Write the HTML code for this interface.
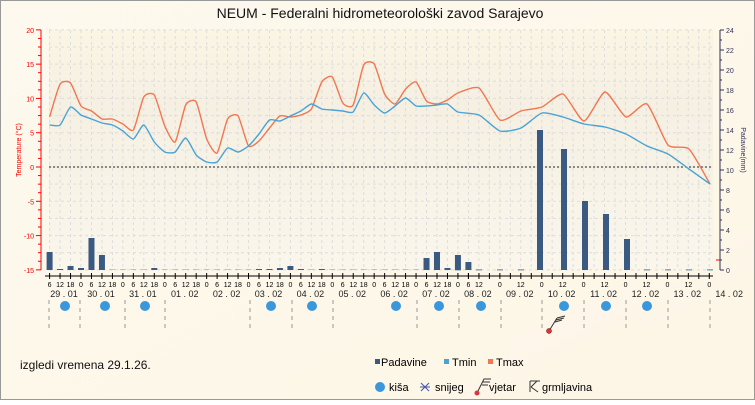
<!DOCTYPE html>
<html><head><meta charset="utf-8"><style>
body{margin:0;width:755px;height:400px;overflow:hidden;font-family:"Liberation Sans",Verdana,sans-serif}
</style></head><body>
<svg id="s" width="755" height="400" xmlns="http://www.w3.org/2000/svg" font-family="Liberation Sans, DejaVu Sans, sans-serif">
<defs>
<linearGradient id="bg" x1="0" y1="0" x2="1" y2="1"><stop offset="0" stop-color="#fdf9ee"/><stop offset="1" stop-color="#fdf6e6"/></linearGradient>
<linearGradient id="pb" x1="0" y1="0" x2="0" y2="1"><stop offset="0" stop-color="#fbf5e4"/><stop offset="0.3" stop-color="#f5f0e2"/><stop offset="1" stop-color="#faf6ec"/></linearGradient>
</defs>
<rect x="0.5" y="0.5" width="754" height="399" fill="url(#bg)" stroke="#999"/>
<text x="380" y="18" font-size="14" text-anchor="middle" fill="#111">NEUM - Federalni hidrometeorološki zavod Sarajevo</text>
<rect x="49" y="30" width="664" height="240" fill="url(#pb)"/>
<g id="g"></g>
</svg>
<script>
const g=document.getElementById('g');let h='';
const X=t=>49.6+t*10.47/6;
for(let i=0;i<=64;i++){const x=49.6+i*10.47;if(x>713)break;h+=`<line x1="${x}" y1="30" x2="${x}" y2="270" stroke="#ddd" stroke-dasharray="3,3"/>`;}
for(let v=20;v>=-15;v-=2.5){const y=167-v*6.857;h+=`<line x1="49" y1="${y}" x2="713" y2="${y}" stroke="#ddd" stroke-dasharray="3,3"/>`;}
h+=`<line x1="49" y1="167" x2="713" y2="167" stroke="#222" stroke-dasharray="2,2"/>`;
h+=`<line x1="41" y1="30" x2="41" y2="270" stroke="red"/>`;
for(let v=20;v>=-15;v-=1.25){const y=167-v*6.857;const m=v%5==0;h+=`<line x1="${m?36:38}" y1="${y}" x2="41" y2="${y}" stroke="red"/>`;if(m)h+=`<text x="34" y="${y+3}" font-size="7" fill="red" text-anchor="end">${v}</text>`;}
h+=`<text transform="translate(21,150) rotate(-90)" font-size="7" fill="red" text-anchor="middle">Temperature (°C)</text>`;
h+=`<line x1="720" y1="30" x2="720" y2="270" stroke="#335"/>`;
for(let v=0;v<=24;v+=1){const y=270-v*10;const m=v%2==0;h+=`<line x1="720" y1="${y}" x2="${m?724:722}" y2="${y}" stroke="#335"/>`;if(m)h+=`<text x="726" y="${y+3}" font-size="7" fill="#335">${v}</text>`;}
h+=`<line x1="716" y1="260" x2="720" y2="260" stroke="red"/>`;
h+=`<text transform="translate(741,150) rotate(90)" font-size="7" fill="#335" text-anchor="middle">Padavine(mm)</text>`;
const P={0:18,1:1,2:4,3:2,4:32,5:15,10:2,20:1,21:1,22:2,23:4,24:1,26:1,36:12,37:18,38:2,39:15,40:8,41:13};
for(let i=0;i<=40;i++){const v=P[i]||0.3;const x=X(i*6);h+=`<rect x="${x-3}" y="${270-v}" width="6" height="${v}" fill="#3a5a82"/>`;}
const P2=[[540,140],[564,121],[585,69],[606,56],[627,31]];
P2.forEach(([x,v])=>h+=`<rect x="${x-3}" y="${270-v}" width="6" height="${v}" fill="#3a5a82"/>`);
for(let i=0;i<=12;i++){const x=458+i*21;if(!P2.some(p=>Math.abs(p[0]-x)<6))h+=`<rect x="${x-3}" y="269.5" width="6" height="0.8" fill="#3a5a82"/>`;}
const xs6=[];for(let i=0;i<=39;i++)xs6.push(X(i*6));
const tmax6=[117,84,83,106,111,119,119,124,130,97,95,126,142,105,102,139,153,119,116,146,141,128,116,117,115,109,82,77,103,105,65,64,94,104,89,82,101,104,100,93];
const tmin6=[125,125,107,115,119,123,125,131,139,125,142,152,152,138,155,162,162,148,152,146,134,120,121,116,111,104,109,110,111,112,93,105,113,106,98,106,106,105,104,112];
const tmax12=[88,120,111,107,94,121,92,117,104,145,149,184];
const tmin12=[115,131,128,113,117,124,127,134,146,154,169,184];
function line(a,b,c){let p=xs6.map((x,i)=>[x,a[i]]);b.forEach((y,i)=>p.push([479+i*21,y]));
 let d=`M${p[0][0]},${p[0][1]}`;const k=0.1;
 for(let i=0;i<p.length-1;i++){const p0=p[Math.max(0,i-1)],p1=p[i],p2=p[i+1],p3=p[Math.min(p.length-1,i+2)];
  const c1=[p1[0]+(p2[0]-p0[0])*k,p1[1]+(p2[1]-p0[1])*k],c2=[p2[0]-(p3[0]-p1[0])*k,p2[1]-(p3[1]-p1[1])*k];
  d+=` C${c1[0].toFixed(1)},${c1[1].toFixed(1)} ${c2[0].toFixed(1)},${c2[1].toFixed(1)} ${p2[0].toFixed(1)},${p2[1]}`;}
 h+=`<path d="${d}" fill="none" stroke="${c}" stroke-width="1.4"/>`;}
line(tmax6,tmax12,'#f27650');line(tmin6,tmin12,'#4aa3d4');
h+=`<line x1="45" y1="276" x2="713" y2="276" stroke="#000"/>`;
for(let i=0;i<=40;i++){const x=X(i*6);h+=`<line x1="${x}" y1="273" x2="${x}" y2="279" stroke="#000"/>`;const hr=[6,12,18,0][i%4];h+=`<text x="${x}" y="287" font-size="7" text-anchor="middle">${hr}</text>`;}
for(let i=1;i<=24;i++){const x=458+i*10.47;h+=`<line x1="${x}" y1="273" x2="${x}" y2="279" stroke="#000"/>`;if(i%2==0)h+=`<text x="${x}" y="287" font-size="7" text-anchor="middle">${i%4==0?0:12}</text>`;}
const days=['29 . 01','30 . 01','31 . 01','01 . 02','02 . 02','03 . 02','04 . 02','05 . 02','06 . 02','07 . 02','08 . 02','09 . 02','10 . 02','11 . 02','12 . 02','13 . 02','14 . 02'];
days.forEach((d,i)=>{let x=81+(i-1)*41.88+20;if(i==0)x=64;h+=`<text x="${x}" y="297" font-size="9" text-anchor="middle" fill="#222">${d}</text>`;});
[49,80,125,165,250,292,333,417,459,501,542,584,626,668,710].forEach(x=>h+=`<line x1="${x}" y1="300" x2="${x}" y2="332" stroke="#999" stroke-dasharray="4,4"/>`);
[65,105,145,271,312,396,439,481,564,606,647].forEach(x=>h+=`<circle cx="${x}" cy="306" r="5" fill="#3a97dc"/>`);
h+=`<path d="M549 331 L557 318 M557 318 L565 316 M556 320 L564 318 M555 322 L562 320" stroke="#333" fill="none"/><circle cx="549" cy="331" r="2.5" fill="#e0323a" stroke="#600" stroke-width=".5"/>`;
h+=`<text x="20" y="369" font-size="12" fill="#111">izgledi vremena 29.1.26.</text>`;
h+=`<rect x="375" y="359" width="5" height="5" fill="#3a5a82"/><text x="381" y="366" font-size="11">Padavine</text>`;
h+=`<rect x="444" y="359" width="5" height="5" fill="#4aa3d4"/><text x="452" y="366" font-size="11">Tmin</text>`;
h+=`<rect x="488" y="359" width="5" height="5" fill="#f27650"/><text x="496" y="366" font-size="11">Tmax</text>`;
h+=`<circle cx="380" cy="387" r="5" fill="#3a97dc"/><text x="389" y="391" font-size="11">kiša</text>`;
h+=`<path d="M421 383 L429 391 M429 383 L421 391 M420 387 L430 387" stroke="#4455aa"/><text x="435" y="391" font-size="11">snijeg</text>`;
h+=`<path d="M477 393 L484 379 L491 379 M483 382 L490 382 M482 385 L488 385" stroke="#333" fill="none"/><circle cx="477" cy="393" r="2.5" fill="#e0323a"/><text x="489" y="391" font-size="11">vjetar</text>`;
h+=`<path d="M530 381 L540 381 M530 381 L530 392 M531 387 L537 381 M531 387 L538 392" stroke="#333" fill="none"/><text x="542" y="391" font-size="11">grmljavina</text>`;
g.innerHTML=h;
</script>
</body></html>
